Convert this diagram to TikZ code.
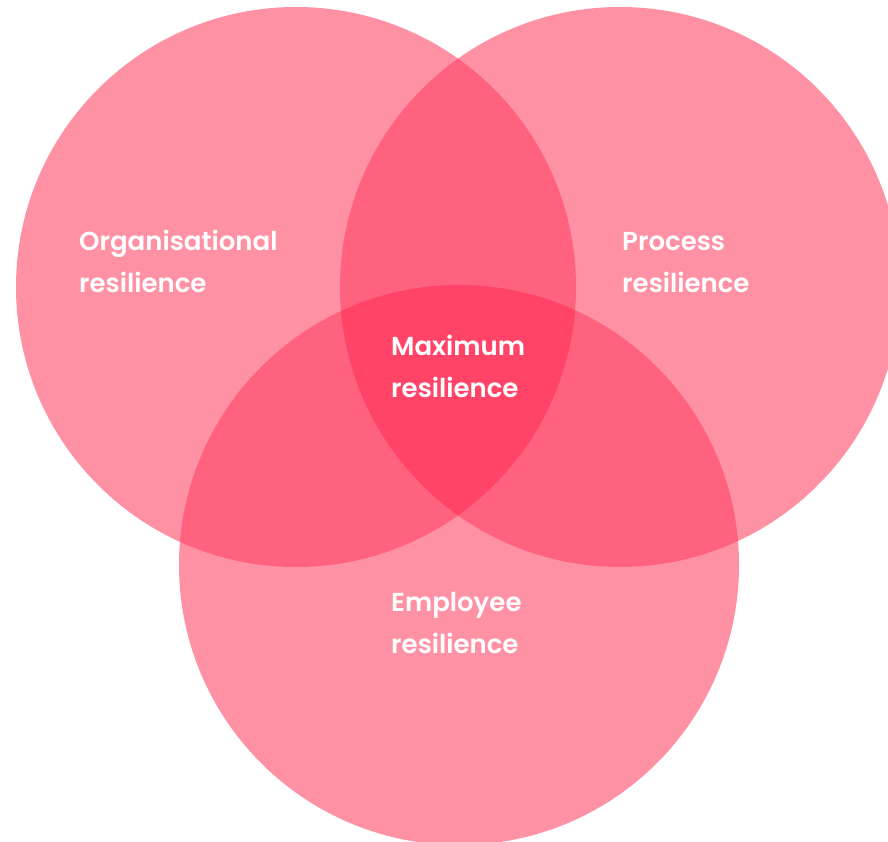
\documentclass[tikz,border=0pt]{standalone}
\usepackage{fontspec}
\newfontfamily\labelfont{Poppins SemiBold}
\begin{document}
\begin{tikzpicture}[x=1pt,y=-1pt,
  lbl/.style={text=white,font=\labelfont\fontsize{26}{42}\selectfont,align=left,anchor=base west,inner sep=0pt}]
\definecolor{onecol}{HTML}{FF91A5}
\definecolor{twocol}{HTML}{FF627E}
\definecolor{threecol}{HTML}{FF4468}
\useasboundingbox (0,0) rectangle (888,842);
\begin{scope}
\clip (0,0) rectangle (888,842);
% the three circles
\fill[onecol] (296,287) circle (280);
\fill[onecol] (620,287) circle (280);
\fill[onecol] (459,565) circle (280);
% pairwise overlaps
\begin{scope}\clip (296,287) circle (280); \fill[twocol] (620,287) circle (280);\end{scope}
\begin{scope}\clip (296,287) circle (280); \fill[twocol] (459,565) circle (280);\end{scope}
\begin{scope}\clip (620,287) circle (280); \fill[twocol] (459,565) circle (280);\end{scope}
% common centre
\begin{scope}\clip (296,287) circle (280); \clip (620,287) circle (280); \fill[threecol] (459,565) circle (280);\end{scope}
\end{scope}
% labels, anchored at the baseline of their second line
\node[lbl] (org) at (79,292) {Organisational\\resilience};
\node[lbl] (proc) at (622,292) {Process\\resilience};
\node[lbl] (max) at (391,397) {Maximum\\resilience};
\node[lbl] (emp) at (391,653) {Employee\\resilience};
\end{tikzpicture}
\end{document}
